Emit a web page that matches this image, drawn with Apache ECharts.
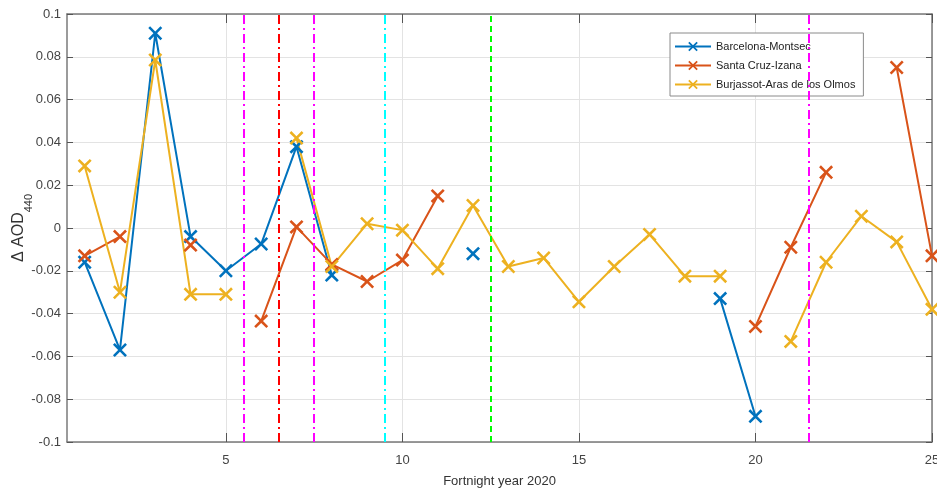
<!DOCTYPE html>
<html><head><meta charset="utf-8">
<script src="https://cdn.jsdelivr.net/npm/echarts@6/dist/echarts.min.js"></script>
<style>html,body{margin:0;padding:0;background:#fff}#c{width:937px;height:491px}</style>
</head><body><div id="c"></div>
<script>
const fortnights = [1,2,3,4,5,6,7,8,9,10,11,12,13,14,15,16,17,18,19,20,21,22,23,24,25];
const barcelona = [-0.016,-0.057,0.091,-0.004,-0.020,-0.0075,0.038,-0.022,null,null,null,-0.012,null,null,null,null,null,null,-0.033,-0.088,null,null,null,null,null];
const santaCruz = [-0.013,-0.004,null,-0.008,null,-0.0435,0.0005,-0.017,-0.025,-0.015,0.015,null,null,null,null,null,null,null,null,-0.046,-0.009,0.026,null,0.075,-0.013];
const burjassot = [0.029,-0.030,0.0785,-0.031,-0.031,null,0.042,-0.018,0.002,-0.001,-0.019,0.0105,-0.018,-0.014,-0.0345,-0.018,-0.003,-0.0225,-0.0225,null,-0.053,-0.016,0.0055,-0.0065,-0.038];
const seriesNames = ['Barcelona-Montsec','Santa Cruz-Izana','Burjassot-Aras de los Olmos'];
const xTicks = [5,10,15,20,25];
const vLinePos = [5.5,6.5,7.5,9.5,12.5,21.5];
const vLineColors = ['#FF00FF','#FF0000','#FF00FF','#00FFFF','#00FF00','#FF00FF'];
const vLineKinds = ['dashdot','dashdot','dashdot','dashdot','dash','dashdot'];

const colors = ['#0072BD','#D95319','#EDB120'];
const xSym = 'path://M0,1.3L1.3,0L5,3.7L8.7,0L10,1.3L6.3,5L10,8.7L8.7,10L5,6.3L1.3,10L0,8.7L3.7,5Z';
const font = 'Liberation Sans, Arial, sans-serif';

function mk(name, vals, color, withLines) {
  const s = {
    name, type: 'line', data: fortnights.map((f,i)=>[f, vals[i]]),
    connectNulls: false, symbol: xSym, symbolSize: 14, showAllSymbol: true,
    lineStyle: {color, width: 2}, itemStyle: {color}, emphasis: {disabled: true},
    z: 3, animation: false
  };
  if (withLines) {
    s.markLine = {
      silent: true, symbol: ['none','none'], label: {show: false}, animation: false,
      data: vLinePos.map((p,i)=>({xAxis: p, lineStyle: {color: vLineColors[i], width: 2,
        type: vLineKinds[i]==='dash' ? [6,4] : [9,4,2,4]}}))
    };
  }
  return s;
}

const chart = echarts.init(document.getElementById('c'), null, {renderer: 'canvas'});
const axisLineStyle = {color: '#7a7a7a', width: 1.5};
chart.setOption({
  animation: false,
  textStyle: {fontFamily: font},
  grid: {left: 67, right: 5, top: 14, bottom: 49, containLabel: false, outerBoundsMode: 'none'},
  legend: {
    orient: 'vertical', left: 670, top: 33, backgroundColor: '#fff',
    borderColor: '#8a8a8a', borderWidth: 1, padding: [8, 8, 6, 4], itemGap: 8,
    itemWidth: 36, itemHeight: 12, data: seriesNames,
    textStyle: {fontFamily: font, fontSize: 11, color: '#222'}
  },
  xAxis: [{
    type: 'value', min: 0.5, max: 25,
    name: 'Fortnight year 2020', nameLocation: 'middle', nameGap: 33, nameMoveOverlap: false,
    nameTextStyle: {fontFamily: font, fontSize: 13, color: '#333'},
    axisLine: {show: true, onZero: false, lineStyle: axisLineStyle},
    axisTick: {show: true, inside: true, length: 9, customValues: xTicks, lineStyle: {color: '#555'}},
    axisLabel: {customValues: xTicks, fontFamily: font, fontSize: 13, color: '#444', margin: 12},
    splitLine: {show: true, lineStyle: {color: '#e3e3e3', width: 1}}
  },{
    type: 'value', min: 0.5, max: 25, position: 'top',
    axisLine: {show: true, onZero: false, lineStyle: axisLineStyle},
    axisTick: {show: true, inside: true, length: 9, customValues: xTicks, lineStyle: {color: '#555'}},
    axisLabel: {show: false, customValues: xTicks}, splitLine: {show: false}
  }],
  yAxis: [{
    type: 'value', min: -0.1, max: 0.1, interval: 0.02,
    name: '{d|Δ AOD}{s|440}', nameLocation: 'middle', nameGap: 40, nameRotate: 90, nameMoveOverlap: false,
    nameTextStyle: {rich: {
      d: {fontFamily: font, fontSize: 16, color: '#333'},
      s: {fontFamily: font, fontSize: 11, color: '#333', verticalAlign: 'bottom', padding: [0,0,-7,0]}
    }},
    axisLine: {show: true, onZero: false, lineStyle: axisLineStyle},
    axisTick: {show: true, inside: true, length: 6, lineStyle: {color: '#555'}},
    axisLabel: {fontFamily: font, fontSize: 13, color: '#444', margin: 6,
      formatter: v => { const r = Math.round(v*100)/100; return r === 0 ? '0' : String(r); }},
    splitLine: {show: true, lineStyle: {color: '#e3e3e3', width: 1}}
  },{
    type: 'value', min: -0.1, max: 0.1, interval: 0.02, position: 'right',
    axisLine: {show: true, onZero: false, lineStyle: axisLineStyle},
    axisTick: {show: true, inside: true, length: 6, lineStyle: {color: '#555'}},
    axisLabel: {show: false}, splitLine: {show: false}
  }],
  series: [
    mk(seriesNames[0], barcelona, colors[0], true),
    mk(seriesNames[1], santaCruz, colors[1], false),
    mk(seriesNames[2], burjassot, colors[2], false)
  ]
});
</script></body></html>
